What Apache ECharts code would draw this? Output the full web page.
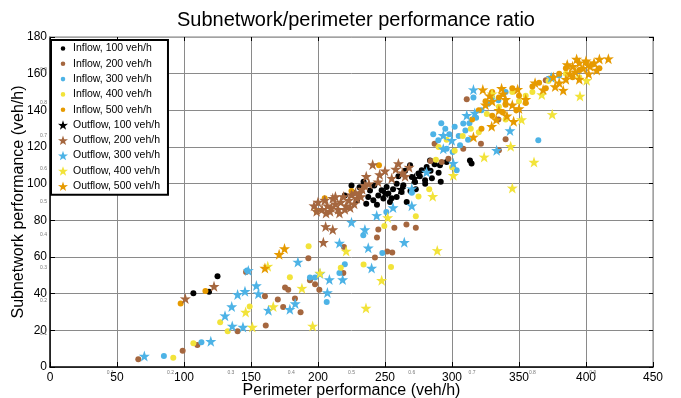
<!DOCTYPE html>
<html><head><meta charset="utf-8">
<script src="https://cdn.jsdelivr.net/npm/echarts@6/dist/echarts.min.js"></script>
<style>html,body{margin:0;padding:0;background:#fff}#c{width:681px;height:398px}</style>
</head><body><div id="c"></div>
<script>
const seriesNames = ['Inflow, 100 veh/h','Inflow, 200 veh/h','Inflow, 300 veh/h','Inflow, 400 veh/h','Inflow, 500 veh/h',
  'Outflow, 100 veh/h','Outflow, 200 veh/h','Outflow, 300 veh/h','Outflow, 400 veh/h','Outflow, 500 veh/h'];
const xTicks = [0,50,100,150,200,250,300,350,400,450];
const yTicks = [0,20,40,60,80,100,120,140,160,180];
const ghostTicks = ['0.1','0.2','0.3','0.4','0.5','0.6','0.7','0.8','0.9'];

const inflow100 = [[107,40.2],[118.7,41],[125,49.5],[238.8,96.3],[241.3,90.9],[245,93.6],[248.8,91.9],[252.5,94.6],[253.7,90],[258.7,92.7],[262.4,95.5],[263.7,99.1],[266.2,90],[270,103.6],[272.4,100.9],[274.9,105.5],[277.4,107.3],[281.1,109.1],[279.9,101.9],[268.7,110],[251.2,98.2],[258.7,100],[237.5,92.7],[247.5,96.4],[231,98],[226,95],[234,101],[242,99],[276,104],[280,100],[284,107],[287,110.6],[290,106],[291.6,101],[296,111.8],[313.4,112.7],[314.6,111],[285,103],[269,96],[260,104],[220,93.6],[225,99],[229,91],[236,89],[244,88.5],[256,97],[265,107],[283.6,112.6],[291,110],[273,97],[255,92]];
const inflow200 = [[65.9,4.2],[99,8.9],[110,12],[140,19.5],[146.3,51.8],[160.4,38.6],[161,22.6],[170,36.8],[174,32.7],[175.4,43.3],[177.8,42.2],[182.8,37.3],[187,29.8],[192.8,59.3],[194,47.3],[197.8,45.1],[201,42.2],[218.9,51.3],[219.4,65.5],[242.5,59.7],[244,70.6],[245,75],[251.7,63],[255.4,62.4],[257,76],[266,77.7],[273,76],[284,112.4],[287,121.8],[292.3,111.8],[297.3,113.6],[308.4,119],[311,146],[321.6,121.8],[334.6,135],[335,118.2],[340,124.2],[370,156.4]];
const inflow300 = [[85,6],[113,13.5],[147,52.7],[194,48.8],[197.8,48.8],[206.5,35.5],[216,51.3],[220,56],[233.8,71.8],[248,62.2],[251,84.5],[289.8,123.7],[300.5,117.3],[303.5,107.3],[316,147],[327,143.6],[334.6,145.5],[364.4,123.7],[308.4,132.8],[295,130],[298,127],[302,131],[305,126],[310,129],[313,133],[318,136],[322,140],[306,121],[312,124],[296,119],[286,127],[292,133],[330,147],[340,150],[270,95],[380,159]];
const inflow400 = [[92,5.1],[107,13],[127,24.4],[132.6,19.5],[149,33],[179,49],[193,65.8],[217,54.2],[234,55.9],[249.5,76.9],[254.5,54.6],[273,82.2],[275,93],[290,120],[296,124],[302,118],[308,126],[314,130],[320,128],[326,138],[335,142],[345,150],[350,145],[360,150],[372,156],[385,160],[395,158],[300,109],[288,113],[283,97],[340,135],[355,148]];
const inflow500 = [[97.5,34.7],[116,41.5],[199,85],[245.5,110],[205,92],[225,96],[320,140],[325,145],[330,150],[335,147],[340,143],[345,152],[350,148],[355,144],[360,153],[365,155],[370,152],[375,158],[380,160],[385,163],[390,158],[395,162],[400,166],[405,165],[410,163],[315,135],[322,130],[338,139],[348,140],[330,137]];
const outflow100 = [[250,95],[262,97],[272,103]];
const outflow200 = [[101,37.3],[122.4,44],[204,68],[205.7,76.7],[211,75],[197,88],[200,90],[203,86],[205,91],[207,88],[209,85],[211,92],[213,89],[215,86],[217,90],[219,93],[221,88],[223,91],[225,94],[227,89],[229,92],[231,95],[216,84],[210,87],[220,86],[224,87],[228,95],[233,97],[235,99],[232,93],[206,84],[213,93],[199,85],[240.8,110.4],[244.8,101],[258,108],[260,111],[263,106],[265,104],[268,109],[255,103],[250,107],[246,105],[238,100],[236,104]];
const outflow300 = [[70.4,6],[120,14],[135.6,33],[136,22.4],[140,39.6],[144,21.8],[145.5,41.3],[148,52.7],[154,44.4],[155.5,40],[163,31],[179,31.5],[183,34.6],[185,57.3],[201.5,51],[207,40.6],[208.5,47.7],[216,67.6],[218.4,47.7],[225,79],[235,75],[237.5,65],[240,54],[243.8,82.7],[256,87],[264.4,68],[270,88],[270,97.3],[281,106.4],[293.5,126.4],[293.5,119],[299.8,123.7],[301,111.2],[311,137.3],[317,138.6],[316,151.3],[333.3,118.2],[343.3,129],[374,158],[130.6,28]];
const outflow400 = [[146,30],[151,21.8],[162.5,55],[166.6,33],[188,43],[196,22.4],[201.5,51.3],[221,63.3],[235.8,32.2],[247.5,47.3],[252,81.5],[285.6,93.1],[301,104.6],[324,114.6],[329.9,149],[343.8,120.4],[345,97.7],[351.9,135],[361.2,111.8],[367,148.6],[374.8,137.8],[395.5,147.8],[400.5,156.4],[289,63.6]];
const outflow500 = [[160.4,54],[171,61.5],[175,64.6],[316,125.5],[323,151.3],[329.6,131.3],[338,149],[349,151.5],[362,155],[368,151.3],[375.6,158.2],[416.7,168.2],[385,157],[388,160],[390,164],[392,161],[395,166],[398,163],[400,167],[403,164],[406,166],[408,162],[410,168],[386,165],[393,168],[380,155],[377,153],[383,151],[395,157],[402,160],[325,143],[330,145],[335,140],[340,146],[345,143],[350,141],[355,146],[333,135],[341,137],[328,148],[346,134],[337,152]];

const allData = [inflow100,inflow200,inflow300,inflow400,inflow500,outflow100,outflow200,outflow300,outflow400,outflow500];
const colors = ['#000000','#a5673f','#4db3e6','#f2e33a','#e69a00','#000000','#a5673f','#4db3e6','#f2e33a','#e69a00'];
const STAR = 'path://M50,0 L61.8,35.1 L97.6,34.5 L69.1,56.9 L79.4,90.5 L50,70 L20.6,90.5 L30.9,56.9 L2.4,34.5 L38.2,35.1 Z';
const SMALLDOT = 'path://M0,0L0.05,0L0,0.05Z M99.95,100L100,100L100,99.95Z M50,27A23,23,0,1,1,49.99,27Z';

const FONT = 'Liberation Sans, Arial, sans-serif';
const chart = echarts.init(document.getElementById('c'), null, {renderer:'canvas'});
const series = allData.map((d,i)=>({
  name: seriesNames[i], type:'scatter', xAxisIndex:0, yAxisIndex:0,
  data: d, symbol: i<5 ? 'circle' : STAR, symbolSize: i<5 ? 6 : 11,
  itemStyle:{color:colors[i], opacity:1}, emphasis:{disabled:true}, animation:false
}));
const ghostFmt = v=>{const s=v.toFixed(1); return ghostTicks.indexOf(s)>=0 ? s : '';};
chart.setOption({
  animation:false,
  textStyle:{fontFamily:FONT},
  title:{text:'Subnetwork/perimeter performance ratio', left:351, textAlign:'center', top:5,
    textStyle:{fontSize:20, fontWeight:'normal', color:'#000', fontFamily:FONT}},
  grid:{left:50, right:28, top:37, bottom:31, containLabel:false, outerBoundsMode:'none'},
  legend:{orient:'vertical', left:51, top:40, padding:[3,8,3,7], itemGap:4.3, itemWidth:10, itemHeight:10,
    backgroundColor:'#fff', borderColor:'#000', borderWidth:2, borderRadius:0,
    textStyle:{fontSize:10.5, color:'#000', fontFamily:FONT, lineHeight:10},
    data: seriesNames.map((n,i)=>({name:n, icon: i<5 ? SMALLDOT : STAR, itemStyle:{color:colors[i]}})),
    selectedMode:false},
  xAxis:[
    {type:'value', min:0, max:450, interval:50, position:'bottom',
     axisLine:{onZero:false, lineStyle:{color:'#000', width:1.5}}, axisTick:{inside:true, length:5, lineStyle:{color:'#000'}},
     axisLabel:{color:'#000', fontSize:12, margin:5, fontFamily:FONT},
     splitLine:{show:true, lineStyle:{color:'#8a8a8a', width:1}},
     name:'Perimeter performance (veh/h)', nameLocation:'middle', nameGap:16, nameMoveOverlap:false,
     nameTextStyle:{fontSize:16, color:'#000', fontFamily:FONT}},
    {type:'value', min:0, max:450, interval:50, position:'top',
     axisLine:{onZero:false, show:true, lineStyle:{color:'#aaaaaa', width:1.5}}, axisTick:{show:true, inside:true, length:4, lineStyle:{color:'#000'}},
     axisLabel:{show:false}, splitLine:{show:false}},
    {type:'value', min:0, max:1, interval:0.1, position:'bottom',
     axisLine:{onZero:false, show:false}, axisTick:{show:false}, splitLine:{show:false},
     axisLabel:{show:true, fontSize:5, color:'#777', margin:3, fontFamily:FONT, formatter:ghostFmt}}
  ],
  yAxis:[
    {type:'value', min:0, max:180, interval:20, position:'left',
     axisLine:{onZero:false, show:true, lineStyle:{color:'#000', width:1.5}}, axisTick:{show:true, inside:true, length:5, lineStyle:{color:'#000'}},
     axisLabel:{color:'#000', fontSize:12, margin:3, fontFamily:FONT},
     splitLine:{show:true, lineStyle:{color:'#8a8a8a', width:1}},
     name:'Subnetwork performance (veh/h)', nameLocation:'middle', nameGap:23, nameMoveOverlap:false,
     nameTextStyle:{fontSize:16, color:'#000', fontFamily:FONT}},
    {type:'value', min:0, max:180, interval:20, position:'right',
     axisLine:{onZero:false, show:true, lineStyle:{color:'#aaaaaa', width:1.5}}, axisTick:{show:true, inside:true, length:4, lineStyle:{color:'#000'}},
     axisLabel:{show:false}, splitLine:{show:false}},
    {type:'value', min:0, max:1, interval:0.1, position:'left',
     axisLine:{onZero:false, show:false}, axisTick:{show:false}, splitLine:{show:false},
     axisLabel:{show:true, fontSize:5, color:'#777', margin:3, fontFamily:FONT, formatter:ghostFmt}}
  ],
  series: series
});
</script></body></html>
